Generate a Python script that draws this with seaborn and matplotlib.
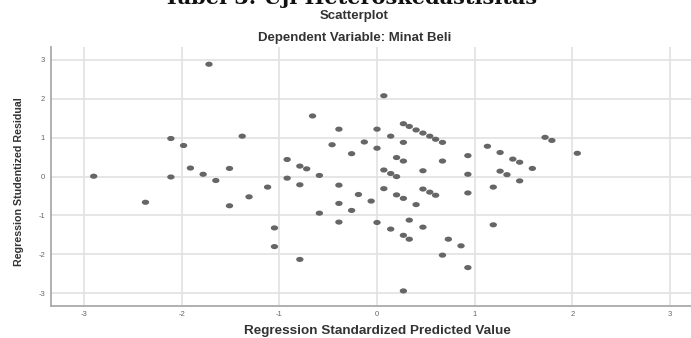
import numpy as np
import pandas as pd
import matplotlib
matplotlib.use("Agg")
import matplotlib.pyplot as plt
from matplotlib.path import Path
import seaborn as sns

# Data
pred = [-1.72, -2.90, -2.37, -2.11, -2.11, -1.98, -1.91, -1.78, -1.65, -1.51,
        -1.38, -1.51, -1.31, -1.12, -1.05, -1.05,
        -0.92, -0.92, -0.79, -0.72, -0.79, -0.79, -0.66, -0.59, -0.59, -0.46,
        -0.39, -0.39, -0.39, -0.39, -0.26, -0.26, -0.19, -0.13, -0.06,
        0.00, 0.00, 0.00, 0.07, 0.07, 0.07, 0.14, 0.14, 0.14,
        0.20, 0.20, 0.20, 0.27, 0.27, 0.27, 0.27, 0.27, 0.27,
        0.33, 0.33, 0.33, 0.40, 0.40, 0.47, 0.47, 0.47, 0.47,
        0.54, 0.54, 0.60, 0.60, 0.67, 0.67, 0.73, 0.67, 0.86,
        0.93, 0.93, 0.93, 0.93,
        1.13, 1.19, 1.19, 1.26, 1.26, 1.33, 1.39, 1.46, 1.46, 1.59,
        1.72, 1.79, 2.05]
resid = [2.89, 0.01, -0.66, 0.98, -0.01, 0.80, 0.22, 0.06, -0.10, 0.21,
         1.04, -0.75, -0.52, -0.27, -1.32, -1.80,
         0.44, -0.04, 0.27, 0.20, -0.21, -2.13, 1.56, 0.03, -0.94, 0.82,
         1.22, -0.22, -0.69, -1.17, 0.59, -0.87, -0.46, 0.89, -0.63,
         1.22, 0.73, -1.18, 2.08, 0.17, -0.31, 1.04, 0.08, -1.35,
         0.49, 0.00, -0.47, 1.36, 0.88, 0.40, -0.56, -1.51, -2.94,
         1.29, -1.12, -1.61, 1.20, -0.72, 1.12, 0.15, -0.32, -1.30,
         1.04, -0.40, 0.96, -0.48, 0.88, 0.40, -1.61, -2.02, -1.78,
         0.54, 0.06, -0.42, -2.34,
         0.78, -0.27, -1.24, 0.62, 0.14, 0.05, 0.45, 0.37, -0.11, 0.21,
         1.01, 0.93, 0.60]
tick_values = [-3, -2, -1, 0, 1, 2, 3]
tick_labels = ["-3", "-2", "-1", "0", "1", "2", "3"]

df = pd.DataFrame({"pred": pred, "resid": resid})

sns.set_theme(style="white")
plt.rcParams['font.family'] = ['Liberation Sans', 'DejaVu Sans']

fig = plt.figure(figsize=(6.91, 3.38), dpi=100)
ax = fig.add_axes([0.0734, 0.0956, 0.9266, 0.7654])

t = np.linspace(0, 2 * np.pi, 40)
ellipse = Path(np.column_stack([np.cos(t), 0.7 * np.sin(t)]), closed=True)

sns.scatterplot(data=df, x="pred", y="resid", ax=ax, marker=ellipse, s=28,
                color="#666666", edgecolor="none", linewidth=0, zorder=3)

ax.set_xlim(-3.34, 3.214)
ax.set_ylim(-3.32, 3.334)
ax.set_xticks(tick_values)
ax.set_xticklabels(tick_labels)
ax.set_yticks(tick_values)
ax.set_yticklabels(tick_labels)
ax.tick_params(axis="both", length=0, labelsize=5.5, labelcolor="#666666")
ax.tick_params(axis="x", pad=4)
ax.tick_params(axis="y", pad=4)
ax.grid(True, color="#e2e2e2", linewidth=1.2)
ax.set_axisbelow(True)
for s in ["top", "right"]:
    ax.spines[s].set_visible(False)
for s in ["left", "bottom"]:
    ax.spines[s].set_color("#aaaaaa")
    ax.spines[s].set_linewidth(1.3)
ax.set_xlabel("")
ax.set_ylabel("")

fig.text(0.508, 0.988, "Tabel 3. Uji Heteroskedastisitas", ha="center", va="baseline",
         fontsize=15, fontweight="bold", family=["DejaVu Serif"], color="#111111")
fig.text(0.513, 1 - 16.5 / 338, "Scatterplot", ha="center", va="center",
         fontsize=9.5, fontweight="bold", color="#333333")
fig.text(0.513, 1 - 37.5 / 338, "Dependent Variable: Minat Beli", ha="center", va="center",
         fontsize=9.5, fontweight="bold", color="#333333")
fig.text(19 / 691, 1 - 182 / 338, "Regression Studentized Residual", rotation=90,
         ha="center", va="center", fontsize=7.7, fontweight="bold", color="#333333")
fig.text(377 / 691, 1.0 / 338, "Regression Standardized Predicted Value",
         ha="center", va="bottom", fontsize=9.7, fontweight="bold", color="#333333")

fig.savefig("out.png", dpi=100)
